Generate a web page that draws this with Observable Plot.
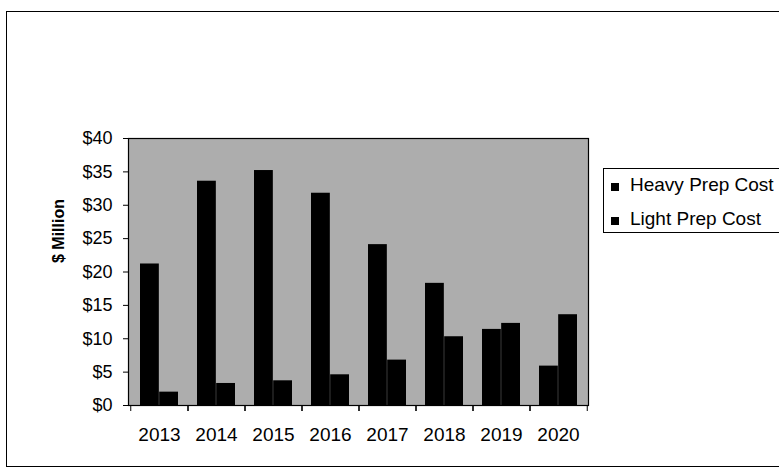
<!DOCTYPE html>
<html>
<head>
<meta charset="utf-8">
<script src="https://cdn.jsdelivr.net/npm/d3@7"></script>
<script src="https://cdn.jsdelivr.net/npm/@observablehq/plot@0.6"></script>
<style>
  body { margin: 0; background: #fff; overflow: hidden; }
  #wrap { position: relative; width: 779px; height: 471px; overflow: hidden; font-family: "Liberation Sans", Arial, sans-serif; }
  #outer { position: absolute; left: 6px; top: 11px; width: 900px; height: 454px; border: 1px solid #000; }
  #chart { position: absolute; left: 0; top: 0; }
  #legend { position: absolute; left: 603px; top: 168px; width: 400px; height: 63px; border: 1px solid #000; background: #fff; }
  .item { position: absolute; left: 0; height: 24px; line-height: 24px; font-size: 19px; color: #000; white-space: nowrap; }
  .sw { position: absolute; left: 7px; width: 8px; height: 8px; background: #000; }
  .lab { position: absolute; left: 26px; top: 0; }
</style>
</head>
<body>
<div id="wrap">
  <div id="outer"></div>
  <div id="chart"></div>
  <div id="legend"></div>
</div>
<script>
const years = ["2013", "2014", "2015", "2016", "2017", "2018", "2019", "2020"];
const heavyPrep = [21.2, 33.6, 35.2, 31.8, 24.1, 18.3, 11.4, 5.9];
const lightPrep = [2.0, 3.3, 3.7, 4.6, 6.8, 10.3, 12.3, 13.6];
const seriesNames = ["Heavy Prep Cost", "Light Prep Cost"];
const yTicks = [0, 5, 10, 15, 20, 25, 30, 35, 40];
const yTitle = "$ Million";

const W = 779, H = 471, ML = 128, MR = 191, MT = 138, MB = 66;
const step = (W - ML - MR) / years.length;
const half = step * (2 / 3) / 2;

const data = years.map((y, i) => ({ year: y, heavy: heavyPrep[i], light: lightPrep[i] }));

const chart = Plot.plot({
  width: W,
  height: H,
  marginLeft: ML,
  marginRight: MR,
  marginTop: MT,
  marginBottom: MB,
  style: { fontFamily: '"Liberation Sans", Arial, sans-serif', background: "transparent", color: "#000", overflow: "visible" },
  x: { type: "band", domain: years, paddingInner: 1 / 3, paddingOuter: 1 / 6, axis: null },
  y: { domain: [0, 40], axis: null },
  marks: [
    Plot.frame({ fill: "#adadad", stroke: "none" }),
    Plot.barY(data, { x: "year", y: "heavy", fill: "#000", insetRight: half }),
    Plot.barY(data, { x: "year", y: "light", fill: "#000", insetLeft: half }),
    Plot.frame({ stroke: "#000", strokeWidth: 1.2 }),
    Plot.axisY({ ticks: yTicks, tickFormat: d => "$" + d, tickSize: 5, tickPadding: 11, fontSize: 18, label: null }),
    Plot.axisX({ tickSize: 0, tickPadding: 22, fontSize: 19, label: null }),
    Plot.axisX({ tickSize: 6, text: null, dx: -step / 2, label: null }),
    Plot.axisX({ tickSize: 6, text: null, dx: step / 2, label: null }),
    Plot.text([yTitle], { frameAnchor: "left", dx: -70, dy: -9, rotate: -90, fontWeight: "bold", fontSize: 16, fill: "#000" })
  ]
});
document.getElementById("chart").appendChild(chart);

const legend = document.getElementById("legend");
const rowTops = [4, 38];
seriesNames.forEach((name, i) => {
  const item = document.createElement("div");
  item.className = "item";
  item.style.top = rowTops[i] + "px";
  const sw = document.createElement("span");
  sw.className = "sw";
  sw.style.top = "10px";
  const lab = document.createElement("span");
  lab.className = "lab";
  lab.textContent = name;
  item.appendChild(sw);
  item.appendChild(lab);
  legend.appendChild(item);
});
</script>
</body>
</html>
